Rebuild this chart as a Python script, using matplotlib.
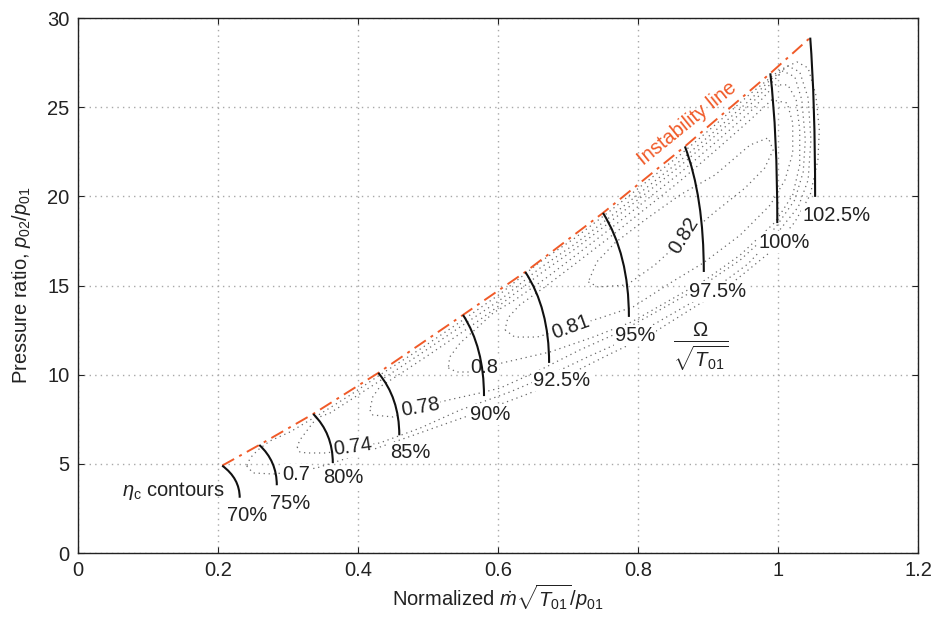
import matplotlib
matplotlib.use('Agg')
import matplotlib.pyplot as plt
from matplotlib.path import Path
from matplotlib.patches import PathPatch

plt.rcParams['font.family'] = ['Liberation Sans', 'DejaVu Sans']
plt.rcParams['mathtext.fontset'] = 'custom'
plt.rcParams['mathtext.rm'] = 'Liberation Sans'
plt.rcParams['mathtext.it'] = 'Liberation Sans:italic'
plt.rcParams['mathtext.bf'] = 'Liberation Sans:bold'

RED = '#f05a28'
FS = 14.5

# Constant-speed lines: start on the surge line, end at the low-pressure side
speed_pct = ['70%', '75%', '80%', '85%', '90%', '92.5%', '95%', '97.5%', '100%', '102.5%']
speed_x0 = [0.206, 0.259, 0.336, 0.429, 0.550, 0.639, 0.750, 0.867, 0.989, 1.046]
speed_y0 = [4.90, 6.06, 7.80, 10.10, 13.35, 15.76, 19.07, 22.80, 26.90, 28.90]
speed_x1 = [0.231, 0.284, 0.364, 0.459, 0.580, 0.673, 0.787, 0.894, 0.999, 1.053]
speed_y1 = [3.10, 3.80, 5.05, 6.60, 8.80, 10.66, 13.24, 15.76, 18.50, 19.97]
speed_lab_x = [0.241, 0.303, 0.379, 0.474, 0.589, 0.691, 0.796, 0.913, 1.009, 1.083]
speed_lab_y = [2.13, 2.80, 4.26, 5.61, 7.74, 9.70, 12.17, 14.69, 17.44, 18.90]

# Efficiency contours (closed loops)
eff_levels = ['0.7', '0.74', '0.78', '0.8', '0.81', '0.82']
eff_x = [
    [0.241, 0.250, 0.279, 0.303, 0.341, 0.403, 0.460, 0.524, 0.589, 0.646, 0.703, 0.760,
     0.817, 0.874, 0.931, 0.989, 1.024, 1.046, 1.057, 1.059, 1.054, 1.043, 1.027, 1.003,
     0.960, 0.910, 0.860, 0.810, 0.760, 0.710, 0.660, 0.603, 0.546, 0.489, 0.431, 0.389,
     0.346, 0.303, 0.274, 0.257, 0.246, 0.241],
    [0.313, 0.317, 0.327, 0.356, 0.393, 0.431, 0.489, 0.546, 0.617, 0.674, 0.731, 0.789,
     0.846, 0.903, 0.957, 1.000, 1.029, 1.043, 1.047, 1.043, 1.031, 1.014, 0.989, 0.960,
     0.910, 0.860, 0.810, 0.760, 0.710, 0.660, 0.603, 0.546, 0.489, 0.431, 0.389, 0.360,
     0.341, 0.331, 0.317, 0.313],
    [0.417, 0.421, 0.450, 0.489, 0.529, 0.574, 0.603, 0.660, 0.717, 0.774, 0.831, 0.889,
     0.946, 0.996, 1.024, 1.036, 1.039, 1.034, 1.024, 1.007, 0.981, 0.960, 0.910, 0.860,
     0.810, 0.760, 0.710, 0.660, 0.603, 0.560, 0.503, 0.460, 0.431, 0.421, 0.417],
    [0.529, 0.541, 0.560, 0.580, 0.606, 0.674, 0.736, 0.791, 0.846, 0.896, 0.946, 0.996,
     1.021, 1.031, 1.031, 1.026, 1.014, 0.996, 0.989, 0.960, 0.910, 0.860, 0.810, 0.760,
     0.710, 0.667, 0.624, 0.593, 0.570, 0.546, 0.531, 0.529],
    [0.610, 0.624, 0.656, 0.704, 0.746, 0.793, 0.846, 0.893, 0.946, 0.989, 1.010, 1.021,
     1.021, 1.013, 0.991, 0.960, 0.910, 0.860, 0.810, 0.760, 0.710, 0.667, 0.631, 0.614,
     0.610],
    [0.729, 0.743, 0.784, 0.824, 0.871, 0.910, 0.953, 0.981, 0.993, 0.986, 0.960, 0.910,
     0.860, 0.810, 0.767, 0.741, 0.729],
]
eff_y = [
    [4.88, 4.49, 4.43, 4.54, 4.77, 5.55, 6.34, 7.23, 8.13, 8.97, 10.04, 11.16,
     12.23, 13.63, 15.03, 16.88, 18.56, 20.08, 22.04, 23.72, 25.69, 27.20, 27.54, 27.09,
     25.74, 24.00, 22.32, 20.75, 19.18, 17.67, 16.32, 14.53, 12.96, 11.44, 9.98, 8.86,
     7.80, 6.79, 6.28, 5.78, 5.33, 4.88],
    [5.95, 5.66, 5.61, 5.61, 5.95, 6.17, 7.01, 8.02, 9.03, 9.98, 11.05, 12.06,
     13.35, 14.64, 16.21, 18.00, 19.41, 20.92, 23.16, 25.52, 26.98, 27.31, 26.53, 25.41,
     23.67, 21.99, 20.42, 18.84, 17.33, 15.98, 14.19, 12.68, 11.16, 9.65, 8.58, 7.85,
     7.57, 7.07, 6.34, 5.95],
    [8.02, 7.74, 7.63, 8.19, 8.58, 8.97, 9.25, 10.26, 11.39, 12.39, 13.63, 14.92,
     16.43, 18.23, 19.80, 21.37, 23.16, 25.41, 26.70, 27.03, 25.97, 25.13, 23.39, 21.70,
     20.13, 18.56, 17.05, 15.65, 13.91, 12.68, 11.16, 10.04, 9.31, 8.75, 8.02],
    [10.38, 10.15, 10.15, 10.38, 10.66, 11.27, 12.11, 12.96, 14.19, 15.31, 16.71, 18.56,
     20.08, 21.76, 23.72, 25.41, 26.25, 26.25, 25.97, 24.73, 23.00, 21.31, 19.74, 18.17,
     16.66, 15.37, 14.19, 13.46, 12.62, 11.78, 10.99, 10.38],
    [12.51, 12.11, 12.11, 12.68, 13.18, 13.80, 15.14, 16.26, 17.83, 19.52, 20.92, 22.43,
     24.12, 25.24, 25.41, 24.28, 22.55, 20.86, 19.29, 17.72, 16.21, 14.92, 13.91, 13.18,
     12.51],
    [15.20, 14.92, 15.03, 16.15, 17.83, 19.13, 20.47, 21.59, 22.60, 23.28, 22.88, 21.20,
     20.08, 18.68, 17.39, 16.32, 15.20],
]
eff_lab_x = [0.311, 0.393, 0.489, 0.580, 0.704, 0.866]
eff_lab_y = [4.43, 5.95, 8.19, 10.38, 12.68, 17.83]
eff_lab_rot = [0, 8, 10, 0, 20, 58]

fig = plt.figure(figsize=(9.32, 6.19), dpi=100)
ax = fig.add_axes([0.0837, 0.1066, 0.9013, 0.8643])

ax.set_xlim(0, 1.2)
ax.set_ylim(0, 30)
ax.set_xticks([0, 0.2, 0.4, 0.6, 0.8, 1, 1.2])
ax.set_xticklabels(['0', '0.2', '0.4', '0.6', '0.8', '1', '1.2'])
ax.set_yticks([0, 5, 10, 15, 20, 25, 30])
ax.tick_params(direction='in', length=4, width=0.8, labelsize=FS,
               top=True, right=True, pad=6, colors='#222222')
ax.grid(True, color='#a8a8a8', linestyle=(0, (1, 3)), linewidth=1.0)
ax.set_axisbelow(True)
for sp in ax.spines.values():
    sp.set_linewidth(1.0)
    sp.set_color('#222222')

# efficiency islands
for xs, ys in zip(eff_x, eff_y):
    ax.plot(xs, ys, color='#6a6a6a', linestyle=(0, (1, 3)), linewidth=0.9, zorder=2)

for lab, x, y, r in zip(eff_levels, eff_lab_x, eff_lab_y, eff_lab_rot):
    ax.text(x, y, lab, fontsize=FS, rotation=r, ha='center', va='center', color='#222222',
            rotation_mode='anchor', zorder=3,
            bbox=dict(boxstyle='square,pad=0.05', fc='white', ec='none'))

# surge (instability) line
ax.plot(speed_x0, speed_y0, color=RED, linestyle=(0, (7, 3, 1.5, 3)), linewidth=1.4, zorder=5)
ax.text(0.870, 24.1, 'Instability line', color=RED, fontsize=FS, rotation=39,
        ha='center', va='center', rotation_mode='anchor', zorder=5)

# constant speed lines drawn as quadratic curves bending to vertical
for x0, y0, x1, y1 in zip(speed_x0, speed_y0, speed_x1, speed_y1):
    yc = y1 + 0.6 * (y0 - y1)
    verts = [(x0, y0), (x1, yc), (x1, y1)]
    path = Path(verts, [Path.MOVETO, Path.CURVE3, Path.CURVE3])
    ax.add_patch(PathPatch(path, fc='none', ec='#111111', lw=1.5, zorder=6))

for lab, x, y in zip(speed_pct, speed_lab_x, speed_lab_y):
    ax.text(x, y, lab, fontsize=FS, ha='center', va='center', color='#222222', zorder=3,
            bbox=dict(boxstyle='square,pad=0.05', fc='white', ec='none'))

ax.text(0.136, 3.48, r'$\eta_{\mathrm{c}}$ contours', fontsize=FS, ha='center',
        va='center', color='#222222')
ax.text(0.889, 11.55, r'$\frac{\Omega}{\sqrt{T_{01}}}$', fontsize=21, ha='center',
        va='center', color='#222222')

ax.set_xlabel(r'Normalized $\dot{m}\sqrt{T_{01}}/p_{\mathrm{01}}$', fontsize=FS,
              color='#222222', labelpad=1)
ax.set_ylabel(r'Pressure ratio, $p_{\mathrm{02}}/p_{\mathrm{01}}$', fontsize=FS,
              color='#222222', labelpad=10)

fig.savefig('out.png', dpi=100, facecolor='white')
